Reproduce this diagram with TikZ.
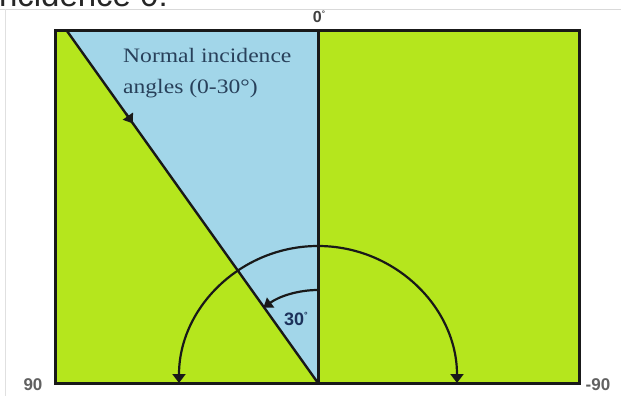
\documentclass[tikz,border=0pt]{standalone}
\usepackage{fontspec}
\setmainfont{Liberation Serif}
\setsansfont{Liberation Sans}
\usetikzlibrary{arrows.meta}
\definecolor{limeg}{RGB}{181,230,29}
\definecolor{skyb}{RGB}{162,214,233}
\definecolor{slate}{RGB}{40,64,90}
\definecolor{navy}{RGB}{28,50,90}
\tikzset{
  border/.style={line width=3pt, black!90},
  curvearrow/.style={line width=2.2pt, black!90, {Triangle[length=9pt,width=13pt]}-{Triangle[length=9pt,width=13pt]}},
  onearrow/.style={line width=2.2pt, black!90, -{Triangle[length=9pt,width=12pt]}},
  graylabel/.style={font=\sffamily\bfseries\fontsize{17}{17}\selectfont, text=black!62, inner sep=0pt},
  serlabel/.style={font=\rmfamily\fontsize{20.5}{20.5}\selectfont, text=slate, inner sep=0pt, anchor=base west}
}
\begin{document}
\begin{tikzpicture}[x=1pt,y=-1pt]
\useasboundingbox (0,0) rectangle (621,396);
\clip (0,0) rectangle (621,396);
\fill[white] (0,0) rectangle (621,396);
% cropped surrounding text
\node[anchor=base east, font=\sffamily\fontsize{33}{33}\selectfont, text=black!85, inner sep=0pt] (hdr) at (168,7) {incidence 0:};
\draw[black!15, line width=1pt] (0,9.5) -- (621,9.5);
\draw[black!12, line width=1pt] (5,9.5) -- (5,396);
% corners
\coordinate (tl) at (55,31);
\coordinate (tr) at (579,31);
\coordinate (bl) at (55,383);
\coordinate (br) at (579,383);
\coordinate (tm) at (318,31);
\coordinate (o) at (318,383);
\coordinate (dtop) at (67,31);
% fills
\fill[limeg] (tl) rectangle (br);
\fill[skyb] (dtop) -- (tm) -- (o) -- cycle;
% lines
\draw[line width=2.4pt, black!90] (dtop) -- (o);
\draw[border] (tm) -- (o);
\draw[border] (tl) rectangle (br);
% arrow on diagonal
\coordinate (da) at (126,113.5);
\coordinate (db) at (133,123.5);
\draw[onearrow] (da) -- (db);
% big arc
\coordinate (bigL) at (179,383);
\draw[curvearrow] (bigL) arc[start angle=180, end angle=360, x radius=139, y radius=137];
% small arc
\coordinate (smallTop) at (318,290);
\draw[onearrow] (smallTop) arc[start angle=270, end angle=234, radius=93];
% labels
\node[font=\sffamily\bfseries\fontsize{16}{16}\selectfont, text=black!75, inner sep=0pt] (zero) at (319,17) {0\raisebox{0.35em}{\fontsize{8}{8}\selectfont °}};
\node[graylabel] (l90) at (33,385) {90};
\node[graylabel] (lm90) at (598,385) {-90};
\node[font=\sffamily\bfseries\fontsize{18}{18}\selectfont, text=navy, inner sep=0pt] (l30) at (296,319) {30\raisebox{0.4em}{\fontsize{9}{9}\selectfont °}};
\node[serlabel] (t1) at (123,63) {\scalebox{1.15}[1]{Normal incidence}};
\node[serlabel] (t2) at (123,93) {\scalebox{1.15}[1]{angles (0-30°)}};
\end{tikzpicture}
\end{document}
